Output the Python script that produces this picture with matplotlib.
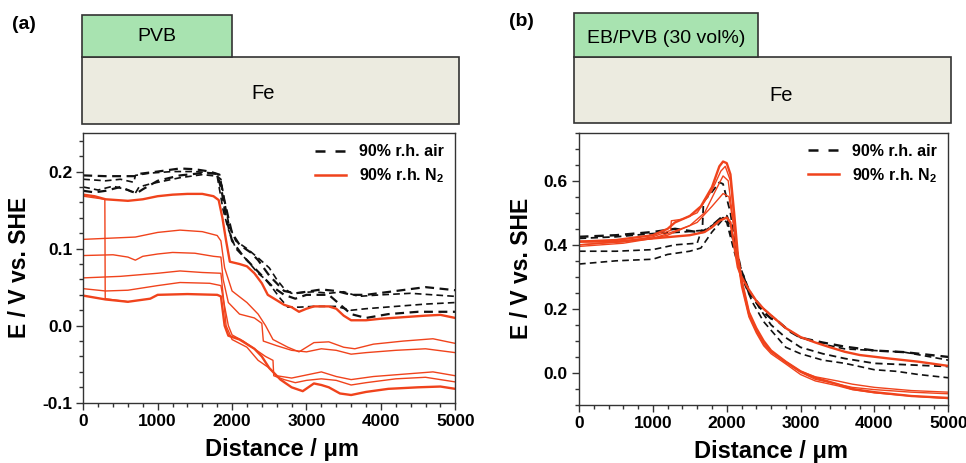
import numpy as np
import matplotlib
matplotlib.use('Agg')
import matplotlib.pyplot as plt
from matplotlib.patches import Rectangle
from matplotlib.ticker import MultipleLocator

plt.rcParams['font.family'] = ['Liberation Sans', 'DejaVu Sans']
plt.rcParams['mathtext.fontset'] = 'custom'
plt.rcParams['mathtext.rm'] = 'Liberation Sans:bold'
plt.rcParams['mathtext.bf'] = 'Liberation Sans:bold'

RED = '#f0431c'
BLACK = '#111111'

# ---------------- panel (a): PVB on Fe ----------------
# N2 curves (distance um, potential V)
a_n2_1_d = [0, 150, 300, 600, 800, 1000, 1200, 1400, 1600, 1750, 1820, 1870, 1920, 1970, 2100, 2200, 2300, 2400, 2480, 2600, 2700, 2800, 2900, 3000, 3100, 3300, 3400, 3500, 3600, 3800, 4000, 4300, 4600, 4800, 5000]
a_n2_1_e = [0.170, 0.168, 0.164, 0.162, 0.164, 0.168, 0.170, 0.171, 0.171, 0.168, 0.163, 0.140, 0.110, 0.083, 0.080, 0.077, 0.068, 0.055, 0.040, 0.033, 0.027, 0.024, 0.018, 0.022, 0.025, 0.025, 0.022, 0.013, 0.007, 0.007, 0.009, 0.011, 0.013, 0.014, 0.010]

a_n2_2_d = [0, 700, 1000, 1300, 1600, 1800, 1850, 1900, 2000, 2200, 2350, 2450, 2550, 2750, 2900, 3100, 3300, 3500, 3650, 3900, 4300, 4700, 5000]
a_n2_2_e = [0.112, 0.115, 0.121, 0.124, 0.122, 0.117, 0.110, 0.075, 0.045, 0.030, 0.015, 0.000, -0.018, -0.028, -0.034, -0.022, -0.021, -0.028, -0.030, -0.024, -0.020, -0.017, -0.023]

a_n2_3_d = [0, 400, 600, 700, 800, 1000, 1200, 1500, 1750, 1850, 1880, 1950, 2100, 2300, 2400, 2420, 2600, 2800, 3000, 3200, 3400, 3600, 3800, 4200, 4600, 5000]
a_n2_3_e = [0.091, 0.092, 0.089, 0.085, 0.090, 0.093, 0.095, 0.094, 0.090, 0.089, 0.060, 0.030, 0.015, 0.010, 0.003, -0.020, -0.026, -0.032, -0.034, -0.030, -0.032, -0.037, -0.035, -0.032, -0.030, -0.035]

a_n2_4_d = [0, 500, 1000, 1300, 1600, 1850, 1880, 1920, 2000, 2200, 2350, 2500, 2600, 2800, 3000, 3200, 3400, 3600, 3900, 4300, 4700, 5000]
a_n2_4_e = [0.062, 0.064, 0.068, 0.071, 0.069, 0.068, 0.040, 0.000, -0.018, -0.028, -0.045, -0.055, -0.065, -0.068, -0.064, -0.060, -0.066, -0.070, -0.066, -0.063, -0.060, -0.065]

a_n2_5_d = [0, 300, 600, 1000, 1300, 1700, 1850, 1880, 1950, 2000, 2150, 2300, 2450, 2550, 2560, 2700, 2850, 3000, 3200, 3400, 3600, 3800, 4200, 4600, 5000]
a_n2_5_e = [0.048, 0.045, 0.046, 0.052, 0.056, 0.055, 0.052, 0.035, 0.000, -0.012, -0.020, -0.030, -0.040, -0.045, -0.065, -0.070, -0.074, -0.071, -0.069, -0.071, -0.077, -0.074, -0.069, -0.067, -0.073]

a_n2_6_d = [0, 300, 600, 900, 1000, 1400, 1800, 1850, 1900, 1950, 2100, 2300, 2400, 2500, 2650, 2800, 2950, 3100, 3200, 3300, 3450, 3600, 3800, 4100, 4500, 4800, 5000]
a_n2_6_e = [0.039, 0.034, 0.031, 0.035, 0.040, 0.041, 0.040, 0.038, 0.000, -0.013, -0.018, -0.030, -0.040, -0.055, -0.070, -0.080, -0.085, -0.075, -0.077, -0.080, -0.088, -0.090, -0.086, -0.082, -0.080, -0.079, -0.082]

a_n2_7_d = [0, 290, 295, 600]
a_n2_7_e = [0.168, 0.164, 0.035, 0.031]

# air curves
a_air_1_d = [0, 300, 500, 700, 750, 1000, 1300, 1500, 1700, 1830, 1880, 1950, 2000, 2100, 2250, 2350, 2500, 2600, 2700, 2850, 3000, 3200, 3400, 3600, 3800, 4200, 4600, 5000]
a_air_1_e = [0.195, 0.194, 0.194, 0.194, 0.197, 0.200, 0.204, 0.203, 0.200, 0.196, 0.170, 0.140, 0.120, 0.105, 0.095, 0.085, 0.065, 0.055, 0.045, 0.042, 0.044, 0.047, 0.045, 0.040, 0.040, 0.045, 0.050, 0.046]

a_air_2_d = [0, 300, 500, 680, 700, 900, 1200, 1500, 1750, 1850, 1900, 1960, 2050, 2200, 2350, 2500, 2600, 2700, 2800, 3100, 3300, 3500, 3700, 4000, 4400, 5000]
a_air_2_e = [0.190, 0.188, 0.190, 0.186, 0.195, 0.198, 0.200, 0.200, 0.198, 0.190, 0.160, 0.130, 0.110, 0.100, 0.088, 0.075, 0.060, 0.048, 0.042, 0.044, 0.042, 0.044, 0.038, 0.040, 0.042, 0.038]

a_air_3_d = [0, 200, 400, 600, 700, 750, 900, 1100, 1300, 1600, 1800, 1880, 1950, 2050, 2200, 2350, 2450, 2550, 2650, 2750, 2900, 3100, 3400, 3600, 3800, 4200, 4600, 5000]
a_air_3_e = [0.180, 0.176, 0.181, 0.176, 0.172, 0.180, 0.184, 0.188, 0.192, 0.196, 0.194, 0.150, 0.125, 0.100, 0.085, 0.068, 0.060, 0.048, 0.035, 0.024, 0.024, 0.025, 0.025, 0.020, 0.022, 0.025, 0.028, 0.030]

a_air_4_d = [0, 150, 300, 500, 650, 720, 800, 1000, 1300, 1600, 1800, 1860, 1920, 2000, 2150, 2300, 2400, 2550, 2700, 2850, 3000, 3300, 3600, 3800, 4100, 4500, 5000]
a_air_4_e = [0.175, 0.173, 0.175, 0.180, 0.174, 0.172, 0.177, 0.188, 0.195, 0.198, 0.197, 0.175, 0.140, 0.110, 0.090, 0.075, 0.065, 0.050, 0.040, 0.035, 0.040, 0.040, 0.015, 0.010, 0.015, 0.018, 0.018]

# ---------------- panel (b): EB/PVB on Fe ----------------
b_n2_1_d = [0, 500, 1000, 1200, 1300, 1500, 1650, 1800, 1900, 1950, 2000, 2050, 2100, 2150, 2200, 2300, 2400, 2500, 2600, 2800, 3000, 3200, 3500, 3700, 4000, 4500, 5000]
b_n2_1_e = [0.410, 0.415, 0.430, 0.450, 0.470, 0.490, 0.520, 0.580, 0.645, 0.660, 0.655, 0.620, 0.500, 0.370, 0.290, 0.190, 0.140, 0.100, 0.070, 0.035, 0.005, -0.015, -0.035, -0.050, -0.060, -0.072, -0.078]

b_n2_2_d = [0, 600, 1000, 1240, 1250, 1400, 1600, 1800, 1920, 1980, 2050, 2100, 2150, 2200, 2300, 2400, 2500, 2600, 2800, 3000, 3200, 3500, 3700, 4000, 4500, 5000]
b_n2_2_e = [0.400, 0.410, 0.425, 0.445, 0.475, 0.480, 0.500, 0.570, 0.630, 0.645, 0.600, 0.480, 0.360, 0.280, 0.180, 0.130, 0.090, 0.065, 0.032, 0.002, -0.020, -0.035, -0.045, -0.052, -0.060, -0.065]

b_n2_3_d = [0, 600, 1000, 1200, 1500, 1700, 1850, 1950, 2020, 2100, 2150, 2200, 2300, 2400, 2500, 2600, 2800, 3000, 3200, 3500, 3700, 4000, 4500, 5000]
b_n2_3_e = [0.395, 0.405, 0.420, 0.435, 0.460, 0.500, 0.570, 0.615, 0.600, 0.450, 0.350, 0.270, 0.175, 0.125, 0.085, 0.060, 0.028, -0.005, -0.025, -0.040, -0.052, -0.062, -0.072, -0.080]

b_n2_4_d = [0, 600, 1000, 1200, 1400, 1600, 1800, 1950, 2030, 2100, 2150, 2200, 2300, 2400, 2500, 2600, 2800, 3000, 3200, 3500, 3700, 4000, 4500, 5000]
b_n2_4_e = [0.400, 0.410, 0.420, 0.430, 0.450, 0.470, 0.520, 0.560, 0.550, 0.450, 0.360, 0.290, 0.190, 0.135, 0.095, 0.068, 0.035, 0.005, -0.012, -0.025, -0.035, -0.045, -0.055, -0.060]

b_n2_5_d = [0, 500, 1000, 1500, 1700, 1800, 1900, 2000, 2050, 2100, 2150, 2200, 2300, 2400, 2500, 2600, 2800, 3000, 3200, 3400, 3600, 3800, 4200, 4600, 5000]
b_n2_5_e = [0.410, 0.410, 0.420, 0.430, 0.440, 0.455, 0.475, 0.485, 0.470, 0.400, 0.330, 0.300, 0.260, 0.225, 0.200, 0.180, 0.140, 0.112, 0.095, 0.080, 0.066, 0.056, 0.045, 0.035, 0.022]

b_air_1_d = [0, 500, 1000, 1300, 1600, 1680, 1750, 1850, 1950, 2000, 2050, 2100, 2150, 2200, 2300, 2400, 2500, 2600, 2700, 2850, 3000, 3300, 3600, 4000, 4400, 5000]
b_air_1_e = [0.425, 0.430, 0.440, 0.450, 0.440, 0.440, 0.450, 0.470, 0.490, 0.490, 0.460, 0.400, 0.350, 0.320, 0.250, 0.220, 0.190, 0.170, 0.160, 0.130, 0.110, 0.095, 0.082, 0.070, 0.065, 0.050]

b_air_2_d = [0, 500, 1000, 1400, 1670, 1685, 1800, 1900, 1950, 2050, 2100, 2200, 2300, 2450, 2600, 2800, 3000, 3300, 3600, 4000, 4500, 5000]
b_air_2_e = [0.420, 0.425, 0.435, 0.440, 0.445, 0.535, 0.565, 0.595, 0.590, 0.500, 0.420, 0.320, 0.260, 0.200, 0.150, 0.110, 0.080, 0.060, 0.045, 0.030, 0.025, 0.020]

b_air_3_d = [0, 500, 1000, 1300, 1600, 1650, 1800, 1950, 2000, 2100, 2200, 2350, 2500, 2650, 2800, 3000, 3300, 3600, 4000, 4300, 4600, 5000]
b_air_3_e = [0.380, 0.380, 0.385, 0.400, 0.405, 0.440, 0.460, 0.485, 0.480, 0.400, 0.300, 0.220, 0.160, 0.120, 0.080, 0.060, 0.040, 0.030, 0.010, 0.005, -0.005, -0.015]

b_air_4_d = [0, 500, 1000, 1200, 1500, 1650, 1800, 1950, 2000, 2100, 2200, 2350, 2500, 2650, 2800, 3000, 3300, 3600, 4000, 4400, 5000]
b_air_4_e = [0.340, 0.350, 0.355, 0.370, 0.380, 0.390, 0.440, 0.480, 0.470, 0.380, 0.300, 0.240, 0.200, 0.170, 0.140, 0.110, 0.090, 0.075, 0.070, 0.065, 0.040]

# (distance, potential, linewidth)
a_n2 = [(a_n2_1_d, a_n2_1_e, 1.7), (a_n2_2_d, a_n2_2_e, 1.0), (a_n2_3_d, a_n2_3_e, 1.0),
        (a_n2_4_d, a_n2_4_e, 1.0), (a_n2_5_d, a_n2_5_e, 1.0), (a_n2_6_d, a_n2_6_e, 1.7),
        (a_n2_7_d, a_n2_7_e, 1.0)]
a_air = [(a_air_1_d, a_air_1_e, 1.6), (a_air_2_d, a_air_2_e, 1.2),
         (a_air_3_d, a_air_3_e, 1.2), (a_air_4_d, a_air_4_e, 1.6)]
b_n2 = [(b_n2_1_d, b_n2_1_e, 1.7), (b_n2_2_d, b_n2_2_e, 1.0), (b_n2_3_d, b_n2_3_e, 1.0),
        (b_n2_4_d, b_n2_4_e, 1.0), (b_n2_5_d, b_n2_5_e, 1.7)]
b_air = [(b_air_1_d, b_air_1_e, 1.7), (b_air_2_d, b_air_2_e, 1.3),
         (b_air_3_d, b_air_3_e, 1.2), (b_air_4_d, b_air_4_e, 1.2)]


def draw_panel(ax, air, n2, ylim, major, minor, xlab_x, xlab_y):
    for d, e, lw in air:
        ax.plot(d, e, color=BLACK, lw=lw, ls=(0, (4, 2.5)))
    for d, e, lw in n2:
        ax.plot(d, e, color=RED, lw=lw)
    # legend handles
    ax.plot([], [], color=BLACK, lw=1.8, ls=(0, (4, 4)), label='90% r.h. air')
    ax.plot([], [], color=RED, lw=1.8, label='90% r.h. N$_2$')
    ax.set_xlim(0, 5000)
    ax.set_ylim(*ylim)
    ax.xaxis.set_major_locator(MultipleLocator(1000))
    ax.xaxis.set_minor_locator(MultipleLocator(200))
    ax.yaxis.set_major_locator(MultipleLocator(major))
    ax.yaxis.set_minor_locator(MultipleLocator(minor))
    ax.yaxis.set_major_formatter(plt.FormatStrFormatter('%.1f'))
    ax.tick_params(which='both', direction='out', top=False, right=False,
                   width=1, color='#333333')
    ax.tick_params(which='major', length=5, labelsize=12.5, pad=3)
    ax.tick_params(which='minor', length=3)
    for lab in ax.get_xticklabels() + ax.get_yticklabels():
        lab.set_fontweight('bold')
    for sp in ax.spines.values():
        sp.set_linewidth(1.0)
        sp.set_color('#333333')
    ax.set_xlabel('Distance / μm', fontsize=17, fontweight='bold')
    ax.xaxis.set_label_coords(xlab_x, xlab_y)
    ax.xaxis.label.set_va('top')
    ax.set_ylabel('E / V vs. SHE', fontsize=16.5, fontweight='bold', labelpad=8)
    leg = ax.legend(loc='upper right', frameon=False,
                    handlelength=1.95, handletextpad=0.8, labelspacing=0.45,
                    borderaxespad=0.3, prop={'weight': 'bold', 'size': 11.5})
    return leg


def draw_scheme(ax, coat_end, fe_top, coat_label, lx, ly, fx, fy):
    ax.set_xlim(0, 1)
    ax.set_ylim(0, 1)
    ax.axis('off')
    ax.add_patch(Rectangle((0, 0), 1, fe_top, facecolor='#ecebe0',
                           edgecolor='#333333', lw=1.2, transform=ax.transAxes, clip_on=False))
    ax.add_patch(Rectangle((0, fe_top), coat_end, 1 - fe_top, facecolor='#a8e3b0',
                           edgecolor='#333333', lw=1.2, transform=ax.transAxes, clip_on=False))
    ax.text(lx, ly, coat_label, fontsize=14, ha='center', va='center', transform=ax.transAxes)
    ax.text(fx, fy, 'Fe', fontsize=14.5, ha='center', va='center', transform=ax.transAxes)


fig = plt.figure(figsize=(9.66, 4.63), dpi=100)

ax_a = fig.add_axes([0.0862, 0.1302, 0.3851, 0.5825])
draw_panel(ax_a, a_air, a_n2, (-0.1, 0.25), 0.1, 0.02, 0.535, -0.132)
sch_a = fig.add_axes([0.0846, 0.7322, 0.3909, 0.2354])
draw_scheme(sch_a, 0.399, 0.612, 'PVB', 0.2, 0.80, 0.48, 0.28)

ax_b = fig.add_axes([0.5994, 0.1253, 0.3823, 0.5881])
draw_panel(ax_b, b_air, b_n2, (-0.1, 0.75), 0.2, 0.05, 0.52, -0.13)
sch_b = fig.add_axes([0.5945, 0.7337, 0.39, 0.2376])
draw_scheme(sch_b, 0.488, 0.603, 'EB/PVB (30 vol%)', 0.245, 0.77, 0.55, 0.25)

fig.text(0.012, 0.965, '(a)', fontsize=14, fontweight='bold', va='top')
fig.text(0.527, 0.972, '(b)', fontsize=14, fontweight='bold', va='top')

fig.savefig('out.png', dpi=100)
